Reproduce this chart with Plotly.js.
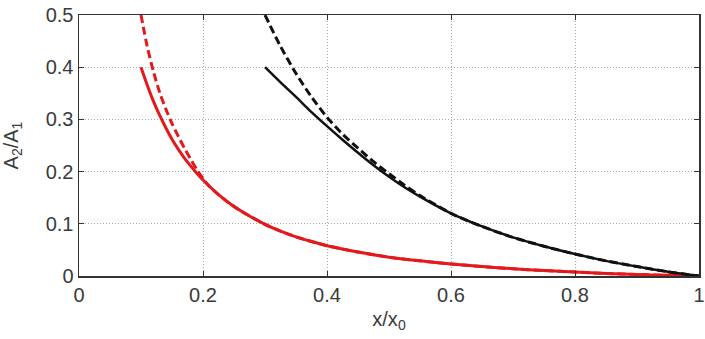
<!DOCTYPE html>
<html>
<head>
<meta charset="utf-8">
<script src="https://cdn.plot.ly/plotly-3.0.1.min.js"></script>
<style>html,body{margin:0;padding:0;background:#fff}#chart{width:705px;height:339px}</style>
</head>
<body>
<div id="chart"></div>
<script>
// Red solid curve
const redSolidX = [0.1, 0.11, 0.12, 0.13, 0.14, 0.15, 0.16, 0.17, 0.18, 0.19, 0.2, 0.225, 0.25, 0.275, 0.3, 0.325, 0.35, 0.375, 0.4, 0.45, 0.5, 0.55, 0.6, 0.65, 0.7, 0.75, 0.8, 0.85, 0.9, 0.95, 1.0];
const redSolidY = [0.4, 0.366, 0.335, 0.308, 0.284, 0.262, 0.243, 0.226, 0.211, 0.197, 0.184, 0.156, 0.133, 0.115, 0.099, 0.086, 0.075, 0.066, 0.058, 0.046, 0.036, 0.029, 0.023, 0.018, 0.014, 0.0105, 0.0075, 0.005, 0.003, 0.0013, 0.0];
// Red dashed curve
const redDashX = [0.1, 0.11, 0.12, 0.13, 0.14, 0.15, 0.16, 0.17, 0.18, 0.19, 0.2, 0.21, 0.225, 0.25, 0.275, 0.3, 0.325, 0.35, 0.375, 0.4, 0.45, 0.5, 0.55, 0.6, 0.65, 0.7, 0.75, 0.8, 0.85, 0.9, 0.95, 1.0];
const redDashY = [0.5, 0.44, 0.392, 0.352, 0.32, 0.292, 0.268, 0.245, 0.224, 0.204, 0.187, 0.172, 0.156, 0.133, 0.115, 0.099, 0.086, 0.075, 0.066, 0.058, 0.046, 0.036, 0.029, 0.023, 0.018, 0.014, 0.0105, 0.0075, 0.005, 0.003, 0.0013, 0.0];
// Black solid curve
const blackSolidX = [0.3, 0.325, 0.35, 0.375, 0.4, 0.425, 0.45, 0.475, 0.5, 0.525, 0.55, 0.6, 0.65, 0.7, 0.75, 0.8, 0.85, 0.9, 0.95, 1.0];
const blackSolidY = [0.4, 0.371, 0.343, 0.314, 0.287, 0.261, 0.236, 0.212, 0.19, 0.17, 0.152, 0.12, 0.095, 0.074, 0.057, 0.042, 0.029, 0.018, 0.008, 0.0];
// Black dashed curve
const blackDashX = [0.3, 0.325, 0.35, 0.375, 0.4, 0.425, 0.45, 0.475, 0.5, 0.525, 0.55, 0.6, 0.65, 0.7, 0.75, 0.8, 0.85, 0.9, 0.95, 1.0];
const blackDashY = [0.5, 0.44, 0.388, 0.343, 0.304, 0.272, 0.245, 0.219, 0.196, 0.174, 0.154, 0.12, 0.095, 0.074, 0.057, 0.042, 0.029, 0.018, 0.008, 0.0];

const xTicks = [0, 0.2, 0.4, 0.6, 0.8, 1];
const xTickText = ['0', '0.2', '0.4', '0.6', '0.8', '1'];
const yTicks = [0, 0.1, 0.2, 0.3, 0.4, 0.5];
const yTickText = ['0', '0.1', '0.2', '0.3', '0.4', '0.5'];

const RED = '#e3191c';
const BLACK = '#111111';

const traces = [
  {x: redDashX, y: redDashY, mode: 'lines', line: {color: RED, width: 3, dash: '8px,4px', shape: 'spline', smoothing: 0.8}},
  {x: redSolidX, y: redSolidY, mode: 'lines', line: {color: RED, width: 3, shape: 'spline', smoothing: 0.8}},
  {x: blackDashX, y: blackDashY, mode: 'lines', line: {color: BLACK, width: 3, dash: '8px,4px', shape: 'spline', smoothing: 0.8}},
  {x: blackSolidX, y: blackSolidY, mode: 'lines', line: {color: BLACK, width: 2.5, shape: 'spline', smoothing: 0.8}}
];

const font = {family: 'Arial, "Liberation Sans", sans-serif', size: 20, color: '#3a3a3a'};

const layout = {
  width: 705, height: 339,
  margin: {l: 79, r: 6, t: 15, b: 63},
  paper_bgcolor: '#fff', plot_bgcolor: '#fff',
  showlegend: false,
  font: font,
  xaxis: {
    range: [0, 1], tickvals: xTicks, ticktext: xTickText,
    showgrid: true, gridcolor: '#a8a8a8', griddash: '1px,2px', gridwidth: 1,
    zeroline: false, showline: true, linecolor: '#333', linewidth: 1.5, mirror: 'ticks',
    ticks: 'inside', ticklen: 5, tickcolor: '#333', tickwidth: 1,
    tickfont: font,
    title: {text: 'x/x<sub>0</sub>', font: font, standoff: 7}
  },
  yaxis: {
    range: [0, 0.5], tickvals: yTicks, ticktext: yTickText,
    showgrid: true, gridcolor: '#a8a8a8', griddash: '1px,2px', gridwidth: 1,
    zeroline: false, showline: true, linecolor: '#333', linewidth: 1.5, mirror: 'ticks',
    ticks: 'inside', ticklen: 5, tickcolor: '#333', tickwidth: 1,
    tickfont: font,
    title: {text: 'A<sub>2</sub>/A<sub>1</sub>', font: font, standoff: 22}
  }
};

Plotly.newPlot('chart', traces, layout, {displayModeBar: false, staticPlot: true});
</script>
</body>
</html>
